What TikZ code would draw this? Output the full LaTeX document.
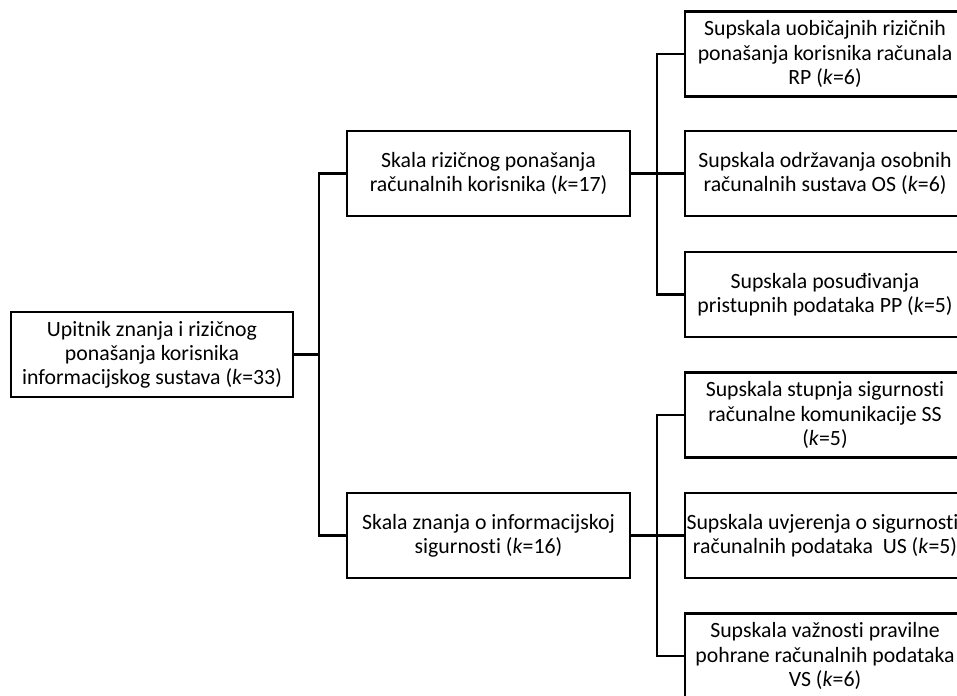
\documentclass[tikz,border=0pt]{standalone}
\usepackage{fontspec}
\setmainfont{Carlito}[Ligatures=NoCommon]
\usetikzlibrary{positioning}
\tikzset{
  font=\fontsize{12.4}{13.7}\selectfont,
  % Box of the scale tree
  box/.style={draw, line width=1.3pt, align=center, minimum width=5.66cm,
    minimum height=1.7cm, inner sep=2pt},
  % Subscale box
  sbox/.style={box, minimum width=5.6cm},
  % Connectors
  link/.style={line width=1.3pt},
}

\begin{document}
\begin{tikzpicture}

  \useasboundingbox (0,0) rectangle (19.14,-13.92);
  \clip (0,0) rectangle (19.14,-13.92);

  % Questionnaire
  \node[box, minimum width=5.64cm] (upitnik) at (3.04,-7.09)
  {Upitnik znanja i rizičnog\\ ponašanja korisnika\\ informacijskog sustava (\textit{k}=33)};

  % Scales
  \node[box] (rizik) at (9.77,-3.47)
  {Skala rizičnog ponašanja\\ računalnih korisnika (\textit{k}=17)};
  \node[box] (znanje) at (9.77,-10.71)
  {Skala znanja o informacijskoj\\ sigurnosti (\textit{k}=16)};

  % Subscales
  \node[sbox] (rp) at (16.5,-1.08)
  {Supskala uobičajnih rizičnih\\ ponašanja korisnika računala\\ RP (\textit{k}=6)};
  \node[sbox] (os) at (16.5,-3.47)
  {Supskala održavanja osobnih\\ računalnih sustava OS (\textit{k}=6)};
  \node[sbox] (pp) at (16.5,-5.89)
  {Supskala posuđivanja\\ pristupnih podataka PP (\textit{k}=5)};
  \node[sbox] (ss) at (16.5,-8.3)
  {Supskala stupnja sigurnosti\\ računalne komunikacije SS\\ (\textit{k}=5)};
  \node[sbox] (us) at (16.5,-10.71)
  {\hspace*{-0.1cm}Supskala uvjerenja o sigurnosti\\ računalnih podataka\ \ US (\textit{k}=5)};
  \node[sbox] (vs) at (16.5,-13.12)
  {Supskala važnosti pravilne\\ pohrane računalnih podataka\\ VS (\textit{k}=6)};

  % Branch points
  \coordinate (j0) at (6.38,-7.09);
  \coordinate (j1) at (13.14,-3.47);
  \coordinate (j2) at (13.14,-10.71);

  \draw[link] (upitnik.east) -- (j0);
  \draw[link] (rizik.west) -| (j0) |- (znanje.west);

  \draw[link] (rizik.east) -- (os.west);
  \draw[link] (rp.west) -| (j1) |- (pp.west);

  \draw[link] (znanje.east) -- (us.west);
  \draw[link] (ss.west) -| (j2) |- (vs.west);

\end{tikzpicture}
\end{document}
